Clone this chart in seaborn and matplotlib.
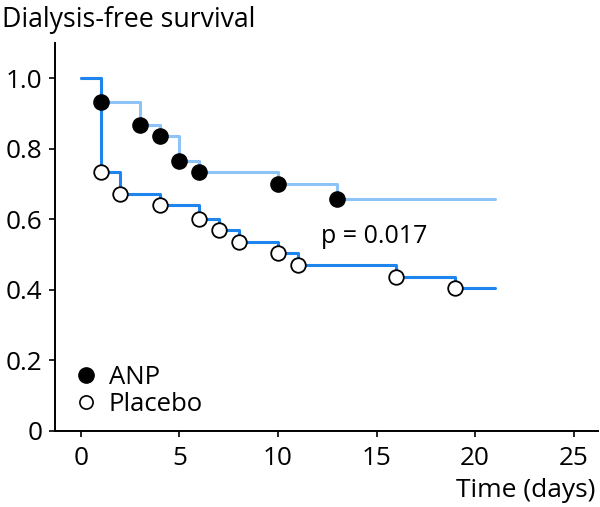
import matplotlib
matplotlib.use("Agg")
import matplotlib.pyplot as plt
from matplotlib.lines import Line2D
import seaborn as sns
import pandas as pd

# ---- data ----
anp_time = [0, 1, 3, 4, 5, 6, 10, 13, 21]
anp_surv = [1.0, 0.933, 0.867, 0.836, 0.765, 0.734, 0.700, 0.658, 0.658]
anp_event_time = [1, 3, 4, 5, 6, 10, 13]
anp_event_surv = [0.933, 0.867, 0.836, 0.765, 0.734, 0.700, 0.658]

placebo_time = [0, 1, 2, 4, 6, 7, 8, 10, 11, 16, 19, 21]
placebo_surv = [1.0, 0.735, 0.672, 0.641, 0.602, 0.569, 0.537, 0.505, 0.471, 0.438, 0.406, 0.406]
placebo_event_time = [1, 2, 4, 6, 7, 8, 10, 11, 16, 19]
placebo_event_surv = [0.735, 0.672, 0.641, 0.602, 0.569, 0.537, 0.505, 0.471, 0.438, 0.406]

groups = ["ANP", "Placebo"]
x_ticks = [0, 5, 10, 15, 20, 25]
y_ticks = [0, 0.2, 0.4, 0.6, 0.8, 1.0]
y_tick_labels = ["0", "0.2", "0.4", "0.6", "0.8", "1.0"]
p_text = "p = 0.017"
title = "Dialysis-free survival"
xlabel = "Time (days)"

line_colors = {"ANP": "#8EC3F8", "Placebo": "#1E84EE"}

sns.set_style("ticks")
plt.rcParams["font.family"] = ["Open Sans", "DejaVu Sans"]
plt.rcParams["text.color"] = "black"

curves = pd.DataFrame({
    "time": anp_time + placebo_time,
    "surv": anp_surv + placebo_surv,
    "group": ["ANP"] * len(anp_time) + ["Placebo"] * len(placebo_time),
})
events_anp = pd.DataFrame({"time": anp_event_time, "surv": anp_event_surv})
events_pla = pd.DataFrame({"time": placebo_event_time, "surv": placebo_event_surv})

fig = plt.figure(figsize=(6.0, 5.07), dpi=100)
ax = fig.add_axes([55 / 600, 76 / 507, (598 - 55) / 600, (431 - 43) / 507])

sns.lineplot(data=curves, x="time", y="surv", hue="group", hue_order=groups,
             palette=line_colors, drawstyle="steps-post", estimator=None,
             linewidth=2.2, legend=False, ax=ax, zorder=2)
sns.scatterplot(data=events_anp, x="time", y="surv", color="black",
                edgecolor="black", s=120, linewidth=1.0, ax=ax, zorder=3)
sns.scatterplot(data=events_pla, x="time", y="surv", color="white",
                edgecolor="black", s=110, linewidth=1.3, ax=ax, zorder=3)

ax.set_xlim(-1.31, 26.23)
ax.set_ylim(0, 1.1)
ax.set_xticks(x_ticks)
ax.set_xticklabels([str(t) for t in x_ticks])
ax.set_yticks(y_ticks)
ax.set_yticklabels(y_tick_labels)
ax.set_xlabel("")
ax.set_ylabel("")
for s in ["top", "right"]:
    ax.spines[s].set_visible(False)
for s in ["left", "bottom"]:
    ax.spines[s].set_linewidth(1.4)
    ax.spines[s].set_color("black")
ax.tick_params(axis="both", labelsize=18.8, length=4, width=1.2, colors="black")
ax.tick_params(axis="x", pad=7)
ax.tick_params(axis="y", pad=5)

ax.text(14.9, 0.533, p_text, ha="center", va="baseline", fontsize=18)

handles = [
    Line2D([], [], ls="", marker="o", markersize=11, markerfacecolor="black",
           markeredgecolor="black"),
    Line2D([], [], ls="", marker="o", markersize=9.5, markerfacecolor="white",
           markeredgecolor="black", markeredgewidth=1.2),
]
ax.legend(handles, groups, loc="lower left", bbox_to_anchor=(0.033, 0.035),
          frameon=False, fontsize=18.5, handlelength=1.0, handletextpad=0.4,
          borderpad=0, borderaxespad=0, labelspacing=0.08)

fig.text(2 / 600, 1 - 27 / 507, title, ha="left", va="baseline", fontsize=19.2)
fig.text(595 / 600, 1 - 497 / 507, xlabel, ha="right", va="baseline", fontsize=19)

fig.savefig("out.png", dpi=100)
